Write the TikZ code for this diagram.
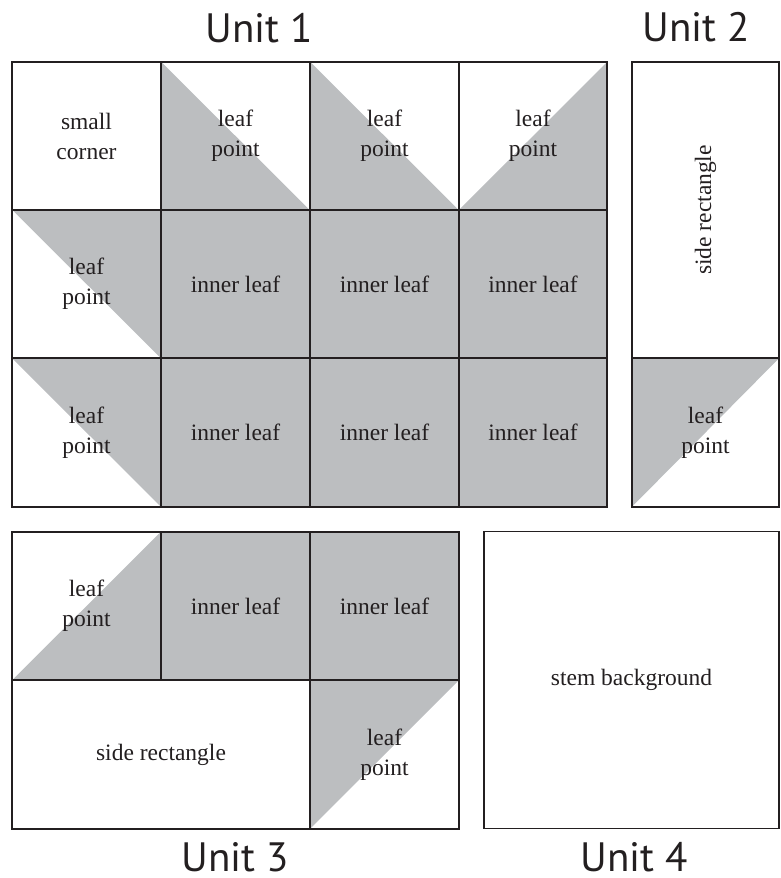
\documentclass[tikz,border=0pt]{standalone}
\usepackage{fontspec}
\setmainfont{Liberation Serif}
\newfontfamily\unitfont{PT Sans}
\definecolor{linec}{HTML}{231F20}
\definecolor{leafgray}{HTML}{BCBEC0}
\tikzset{
  cell/.style={draw=linec, line width=1.8pt, inner sep=0pt, align=center,
    font=\fontsize{23.5}{30}\selectfont, text=linec},
  sq/.style={cell, minimum width=148.5pt, minimum height=148.3pt},
  innerleaf/.style={sq, fill=leafgray},
  grayLL/.style={path picture={\fill[leafgray] (path picture bounding box.north west) -- (path picture bounding box.south west) -- (path picture bounding box.south east) -- cycle;}},
  grayLR/.style={path picture={\fill[leafgray] (path picture bounding box.north east) -- (path picture bounding box.south east) -- (path picture bounding box.south west) -- cycle;}},
  grayUR/.style={path picture={\fill[leafgray] (path picture bounding box.north west) -- (path picture bounding box.north east) -- (path picture bounding box.south east) -- cycle;}},
  grayUL/.style={path picture={\fill[leafgray] (path picture bounding box.north west) -- (path picture bounding box.north east) -- (path picture bounding box.south west) -- cycle;}},
  unitlabel/.style={font=\unitfont\fontsize{41}{41}\selectfont, text=linec, anchor=base, inner sep=0pt}
}
\begin{document}
\begin{tikzpicture}[x=1pt,y=-1pt]
\useasboundingbox (0,0) rectangle (781,878);
% Unit 1, row 1
\node[sq] (u1a) at (86.5,136) {small\\corner};
\node[sq, grayLL] (u1b) at (235.5,136) {leaf\\point};
\node[sq, grayLL] (u1c) at (384.5,136) {leaf\\point};
\node[sq, grayLR] (u1d) at (533,136) {leaf\\point};
% row 2
\node[sq, grayUR] (u1e) at (86.5,284) {leaf\\point};
\node[innerleaf] (u1f) at (235.5,284) {inner leaf};
\node[innerleaf] (u1g) at (384.5,284) {inner leaf};
\node[innerleaf] (u1h) at (533,284) {inner leaf};
% row 3
\node[sq, grayUR] (u1i) at (86.5,432.5) {leaf\\point};
\node[innerleaf] (u1j) at (235.5,432.5) {inner leaf};
\node[innerleaf] (u1k) at (384.5,432.5) {inner leaf};
\node[innerleaf] (u1l) at (533,432.5) {inner leaf};
% Unit 2
\node[cell, minimum width=147pt, minimum height=296pt] (u2a) at (705.5,210) {\rotatebox{90}{side rectangle}};
\node[cell, grayUL, minimum width=147pt, minimum height=148.5pt] (u2b) at (705.5,432.5) {leaf\\point};
% Unit 3
\node[sq, grayLR] (u3a) at (86.5,606) {leaf\\point};
\node[innerleaf] (u3b) at (235.5,606) {inner leaf};
\node[innerleaf] (u3c) at (384.5,606) {inner leaf};
\node[cell, minimum width=298pt, minimum height=148.5pt] (u3d) at (161,754.5) {side rectangle};
\node[sq, grayUL] (u3e) at (384.5,754.5) {leaf\\point};
% Unit 4
\node[cell, minimum width=295pt, minimum height=297pt] (u4) at (631.5,680) {stem background};
% Unit labels
\node[unitlabel] (l1) at (259.5,42) {Unit 1};
\node[unitlabel] (l2) at (696.5,41) {Unit 2};
\node[unitlabel] (l3) at (235.5,871) {Unit 3};
\node[unitlabel] (l4) at (634,871) {Unit 4};
\end{tikzpicture}
\end{document}
